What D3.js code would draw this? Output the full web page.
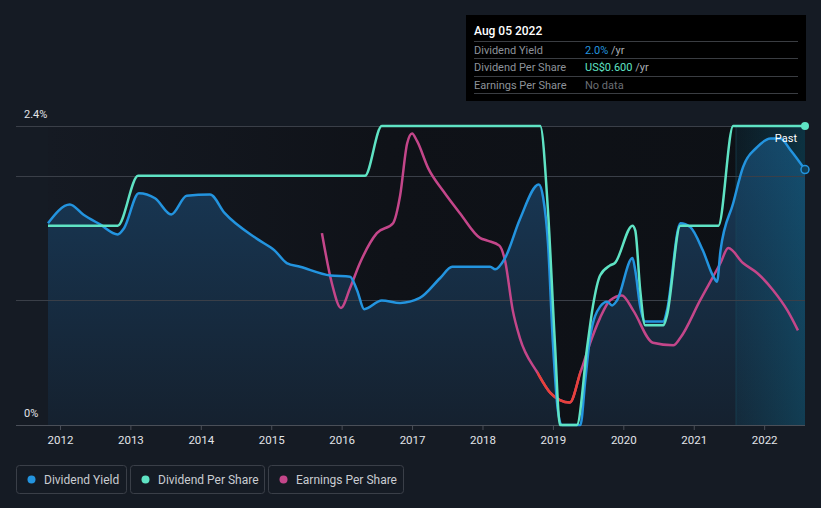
<!DOCTYPE html>
<html><head><meta charset="utf-8">
<script src="https://cdn.jsdelivr.net/npm/d3@7"></script>
<style>
html,body{margin:0;padding:0;background:#151b24;}
svg{display:block;font-family:Roboto,"Open Sans",sans-serif;}
</style></head>
<body><svg id="c" width="821" height="508"></svg>
<script>
// ---- data ----
const yieldYears = [2011.83,2012.14,2012.33,2012.57,2012.82,2012.91,2013.12,2013.35,2013.58,2013.80,2014.13,2014.34,2014.81,2015.05,2015.22,2015.41,2015.84,2016.12,2016.22,2016.32,2016.57,2016.83,2017.11,2017.40,2017.57,2018.11,2018.18,2018.32,2018.53,2018.80,2018.86,2018.93,2019.00,2019.07,2019.13,2019.39,2019.46,2019.53,2019.67,2019.77,2019.84,2019.91,2020.13,2020.17,2020.24,2020.31,2020.57,2020.62,2020.81,2020.95,2021.13,2021.28,2021.33,2021.38,2021.56,2021.70,2021.90,2022.09,2022.23,2022.37,2022.58];
const yieldValues = [1.62,1.77,1.69,1.61,1.53,1.58,1.86,1.82,1.69,1.84,1.85,1.70,1.49,1.40,1.30,1.27,1.20,1.19,1.08,0.93,1.00,0.98,1.02,1.18,1.27,1.27,1.25,1.34,1.65,1.93,1.83,1.46,0.66,0.12,0,0,0.36,0.71,0.95,0.99,0.96,1.00,1.34,1.24,0.95,0.83,0.83,0.92,1.62,1.59,1.40,1.19,1.15,1.40,1.78,2.07,2.23,2.30,2.30,2.21,2.05];

const dpsYears = [2011.83,2012.82,2013.11,2016.33,2016.57,2018.82,2018.93,2019.03,2019.10,2019.34,2019.49,2019.57,2019.67,2019.81,2019.88,2020.13,2020.17,2020.24,2020.31,2020.57,2020.62,2020.81,2021.35,2021.56,2022.58];
const dpsValues = [0.40,0.40,0.50,0.50,0.60,0.60,0.43,0.16,0,0,0.16,0.24,0.30,0.32,0.325,0.40,0.39,0.27,0.20,0.20,0.22,0.40,0.40,0.60,0.60];

const epsYears = [2015.72,2015.86,2015.99,2016.12,2016.26,2016.50,2016.73,2016.83,2016.93,2017.00,2017.07,2017.23,2017.44,2017.68,2017.97,2018.07,2018.24,2018.32,2018.43,2018.53,2018.78,2018.96,2019.10,2019.24,2019.39,2019.53,2019.67,2019.81,2019.98,2020.14,2020.42,2020.71,2020.81,2021.09,2021.38,2021.49,2021.70,2021.90,2022.13,2022.33,2022.48];
const epsValues = [0.77,0.57,0.47,0.55,0.65,0.77,0.81,0.92,1.13,1.17,1.14,1.03,0.94,0.85,0.75,0.74,0.72,0.66,0.46,0.35,0.21,0.13,0.10,0.09,0.21,0.33,0.43,0.50,0.52,0.46,0.33,0.32,0.35,0.50,0.65,0.71,0.65,0.61,0.54,0.46,0.38];
const epsRedRange = [2018.78, 2019.39];

const xTicks = [2012,2013,2014,2015,2016,2017,2018,2019,2020,2021,2022];
const yTickLabels = ["0%","2.4%"];
const yTickValues = [0, 2.4];
const gridValues = [1.0, 2.0, 2.4];
const pastStart = 2021.6;
const legendNames = ["Dividend Yield","Dividend Per Share","Earnings Per Share"];
const tipDate = "Aug 05 2022";
const tipRows = [["Dividend Yield","2.0%"," /yr"],["Dividend Per Share","US$0.600"," /yr"],["Earnings Per Share","No data",""]];

// ---- layout ----
const C = {blue:"#2394df", teal:"#5fe3c4", pink:"#c4468a", red:"#e8413a", grid:"#3a3f48", text:"#e2e4e8", gray:"#8a9099"};
const svg = d3.select("#c");
const L = 16, R = 805, T = 126, B = 425;
const x = d3.scaleLinear().domain([2011.83, 2022.58]).range([48, 805]);
const y = d3.scaleLinear().domain([0, 2.4]).range([B, T]);
const yD = d3.scaleLinear().domain([0, 0.6]).range([B, T]);
const yE = d3.scaleLinear().domain([0, 1.2]).range([B, T]);

const defs = svg.append("defs");
const bgG = defs.append("linearGradient").attr("id","bgG").attr("x1",0).attr("x2",1).attr("y1",0).attr("y2",0);
bgG.append("stop").attr("offset","0%").attr("stop-color","#151a23");
bgG.append("stop").attr("offset","45%").attr("stop-color","#0f1218");
bgG.append("stop").attr("offset","100%").attr("stop-color","#0d1015");
const arG = defs.append("linearGradient").attr("id","arG").attr("x1",0).attr("x2",0).attr("y1",0).attr("y2",1);
arG.append("stop").attr("offset","0%").attr("stop-color","#183a59");
arG.append("stop").attr("offset","100%").attr("stop-color","#15212f");
const pG = defs.append("linearGradient").attr("id","pG").attr("x1",0).attr("x2",1).attr("y1",0).attr("y2",0);
pG.append("stop").attr("offset","0%").attr("stop-color","#0b6f94").attr("stop-opacity",0.12);
pG.append("stop").attr("offset","100%").attr("stop-color","#0b7aa0").attr("stop-opacity",0.32);
defs.append("clipPath").attr("id","redClip").append("rect")
  .attr("x", x(epsRedRange[0])).attr("y",0).attr("width", x(epsRedRange[1]) - x(epsRedRange[0])).attr("height",508);

// plot background
svg.append("rect").attr("x", x(2011.83)).attr("y", T).attr("width", R - x(2011.83)).attr("height", B - T).attr("fill","url(#bgG)");

// yield area
const yd = yieldYears.map((t,i)=>[t, yieldValues[i]]);
svg.append("path").datum(yd)
  .attr("d", d3.area().x(d=>x(d[0])).y0(B).y1(d=>y(d[1])).curve(d3.curveMonotoneX))
  .attr("fill","url(#arG)");

// past overlay
svg.append("rect").attr("x", x(pastStart)).attr("y", T).attr("width", R - x(pastStart)).attr("height", B - T).attr("fill","url(#pG)");
svg.append("line").attr("x1", x(pastStart)).attr("x2", x(pastStart)).attr("y1", T).attr("y2", B).attr("stroke","#1b4a5e").attr("stroke-width",1).attr("opacity",0.6);

// grid
svg.selectAll("line.grid").data(gridValues).join("line").attr("class","grid")
  .attr("x1", L).attr("x2", R).attr("y1", d=>Math.round(y(d))+0.5).attr("y2", d=>Math.round(y(d))+0.5)
  .attr("stroke", C.grid).attr("stroke-width",1);

// x axis
const xAxis = svg.append("g").attr("transform", `translate(0,${B})`)
  .call(d3.axisBottom(x).tickValues(xTicks).tickFormat(d3.format("d")).tickSize(5).tickPadding(6));
xAxis.select(".domain").remove();
xAxis.selectAll(".tick line").attr("stroke","#4a4f58");
xAxis.selectAll(".tick text").attr("fill", C.text).attr("font-size", 11.5).attr("font-family","Roboto");
svg.append("line").attr("x1", L).attr("x2", R).attr("y1", B+0.5).attr("y2", B+0.5).attr("stroke","#4a4f58");

// y labels
svg.selectAll("text.yl").data(yTickValues).join("text").attr("class","yl")
  .attr("x", 24).attr("y", d=>y(d) - 8).text((d,i)=>yTickLabels[i])
  .attr("fill", C.text).attr("font-size", 11);

// lines
const line = d3.line().x(d=>x(d[0])).y(d=>d[2](d[1])).curve(d3.curveMonotoneX);
const dd = dpsYears.map((t,i)=>[t, dpsValues[i], yD]);
const ed = epsYears.map((t,i)=>[t, epsValues[i], yE]);
const yl = yieldYears.map((t,i)=>[t, yieldValues[i], y]);

svg.append("path").datum(ed).attr("d", line).attr("fill","none").attr("stroke", C.pink).attr("stroke-width",2.5);
svg.append("path").datum(ed).attr("d", line).attr("fill","none").attr("stroke", C.red).attr("stroke-width",2.5).attr("clip-path","url(#redClip)");
svg.append("path").datum(yl).attr("d", line).attr("fill","none").attr("stroke", C.blue).attr("stroke-width",2.5);
svg.append("path").datum(dd).attr("d", line).attr("fill","none").attr("stroke", C.teal).attr("stroke-width",2.5);

// end markers
svg.append("circle").attr("cx", x(dpsYears[dpsYears.length-1])).attr("cy", yD(dpsValues[dpsValues.length-1])).attr("r",4).attr("fill", C.teal);
svg.append("circle").attr("cx", x(yieldYears[yieldYears.length-1])).attr("cy", y(yieldValues[yieldValues.length-1])).attr("r",4).attr("fill","#0f3f58").attr("stroke", C.blue).attr("stroke-width",1.5);

svg.append("text").attr("x", 797).attr("y", 142).attr("text-anchor","end").text("Past").attr("fill","#ffffff").attr("font-size",11);

// tooltip
const tip = svg.append("g");
tip.append("rect").attr("x",466).attr("y",15).attr("width",340).attr("height",86).attr("fill","#000000");
tip.append("text").attr("x",474).attr("y",35).text(tipDate).attr("fill","#ffffff").attr("font-size",12).attr("font-weight",500);
const rowY = [41,58,76,93];
rowY.forEach(v=>tip.append("line").attr("x1",474).attr("x2",798).attr("y1",v+0.5).attr("y2",v+0.5).attr("stroke","#3a3d42"));
const valColors = [C.blue, C.teal, "#6a6e74"];
tipRows.forEach((r,i)=>{
  const by = rowY[i] + 12.5;
  tip.append("text").attr("x",474).attr("y",by).text(r[0]).attr("fill","#8d9299").attr("font-size",11);
  const t = tip.append("text").attr("x",585).attr("y",by).attr("font-size",11);
  t.append("tspan").text(r[1]).attr("fill", valColors[i]);
  if (r[2]) t.append("tspan").text(r[2]).attr("fill","#a9adb3");
});

// legend
const legendX = [16,130,268], legendW = [110,134,135];
const legendC = [C.blue, C.teal, C.pink];
legendNames.forEach((n,i)=>{
  const g = svg.append("g").attr("transform",`translate(${legendX[i]},465)`);
  g.append("rect").attr("x",0.5).attr("y",0.5).attr("width",legendW[i]).attr("height",28).attr("rx",3).attr("fill","none").attr("stroke","#3a3f48");
  g.append("circle").attr("cx",15.5).attr("cy",14.5).attr("r",4).attr("fill",legendC[i]);
  g.append("text").attr("x",28).attr("y",18.5).text(n).attr("fill","#c9ccd1").attr("font-size",12);
});
</script></body></html>
